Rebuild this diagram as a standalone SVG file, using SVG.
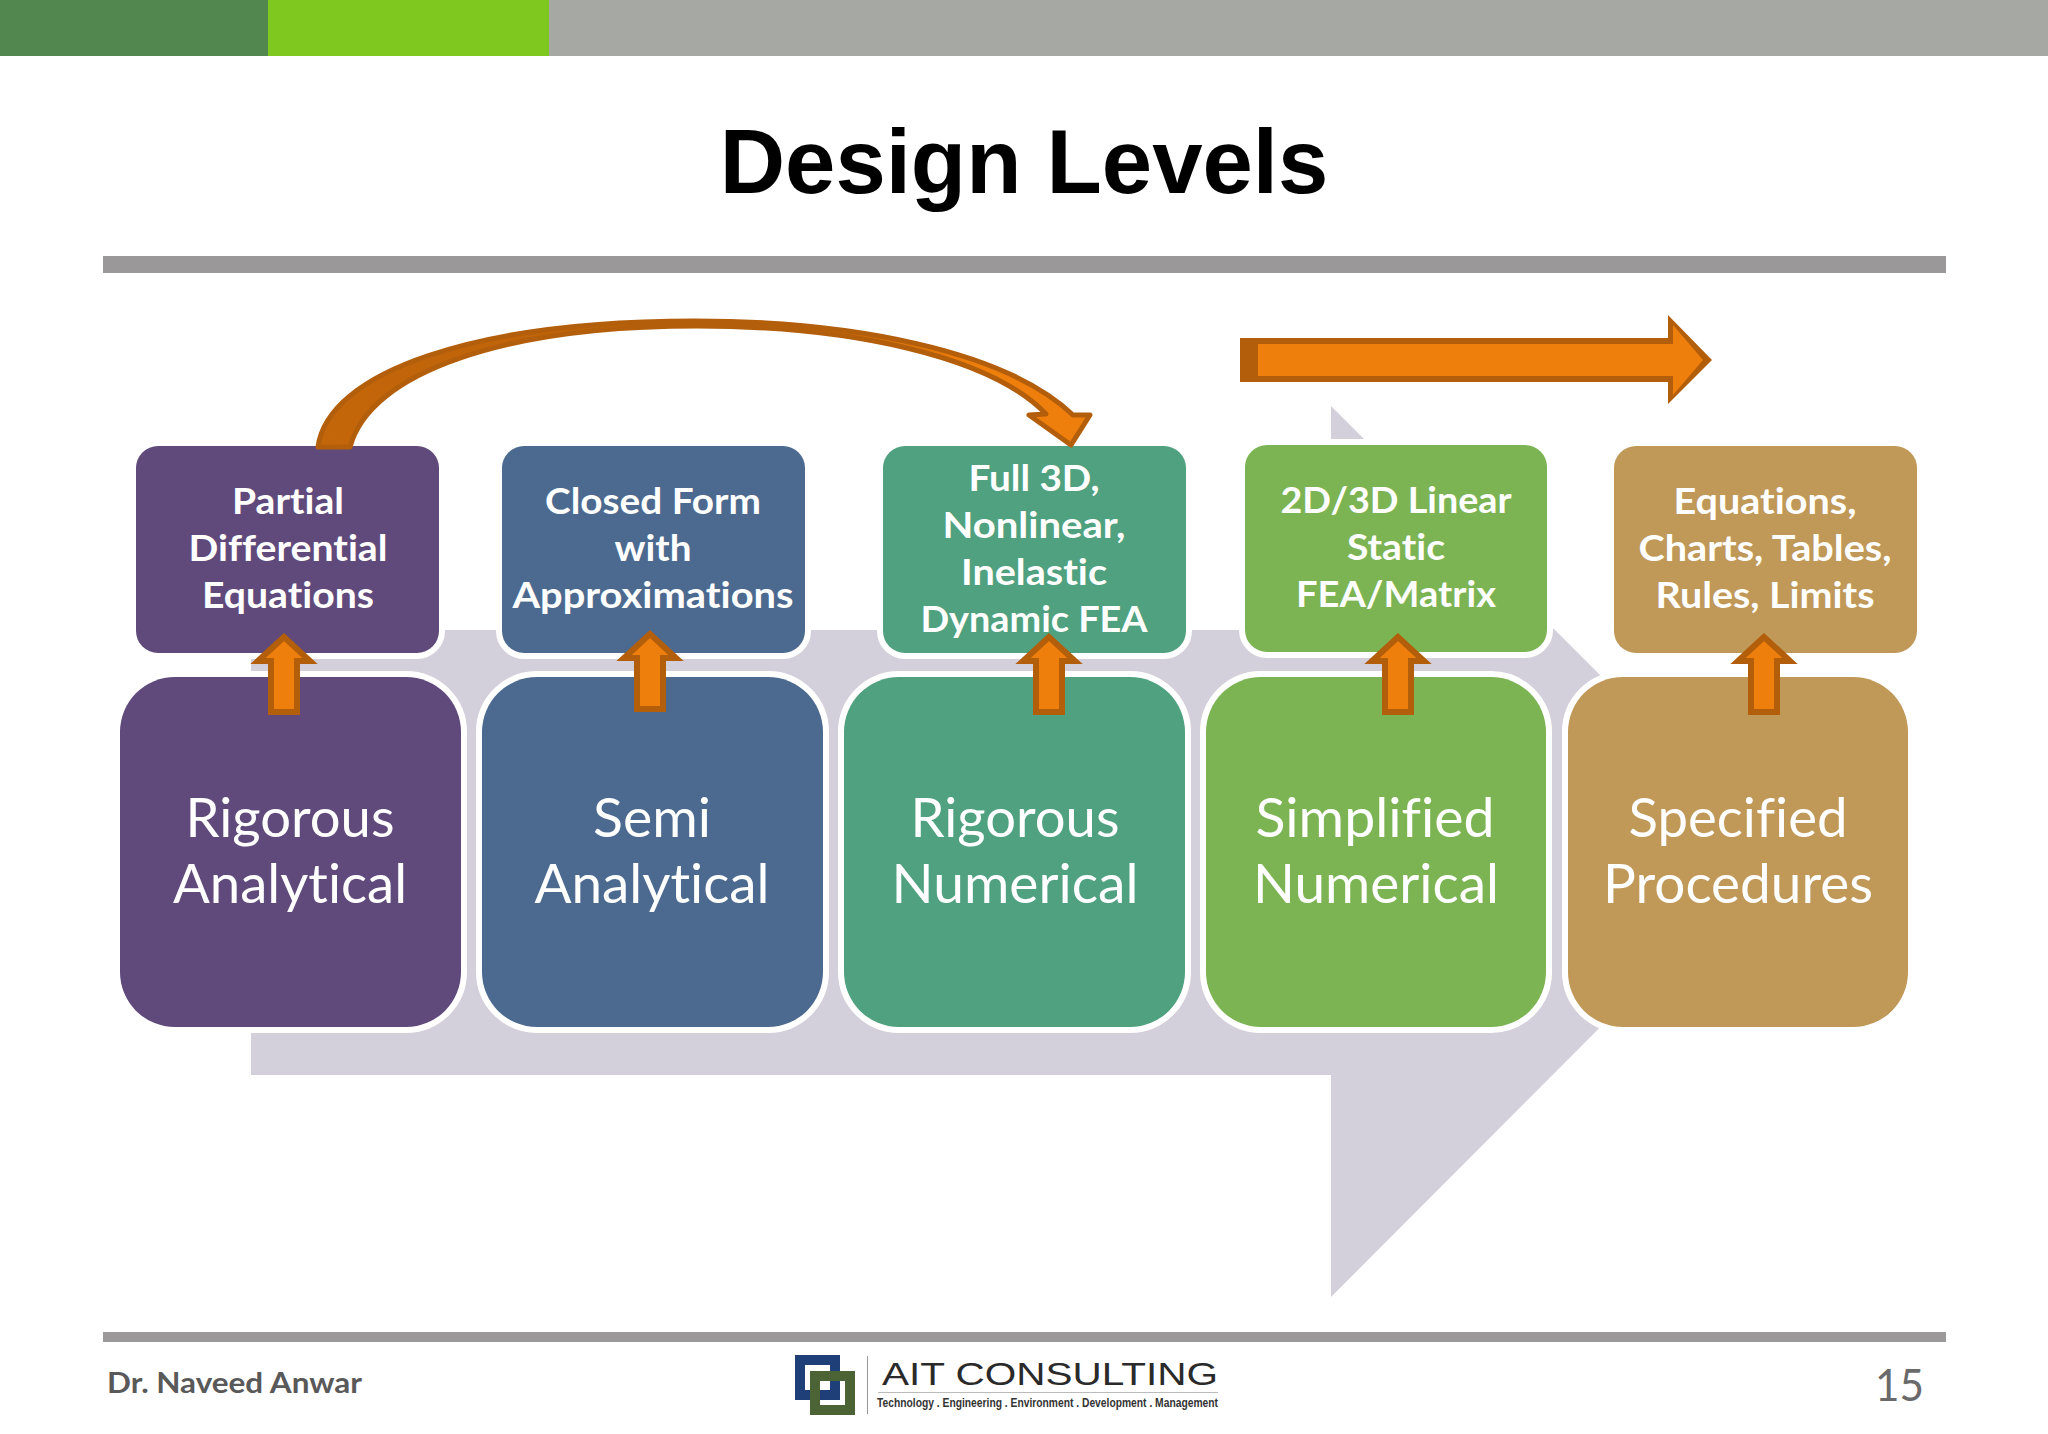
<svg xmlns="http://www.w3.org/2000/svg" width="2048" height="1434" viewBox="0 0 2048 1434">
<style>
text{font-variant-ligatures:none}
.sm{font-family:Lato,"Liberation Sans",sans-serif;font-weight:700;font-size:37px;fill:#fff;text-anchor:middle}
.bg{font-family:Lato,"Liberation Sans",sans-serif;font-weight:400;font-size:54px;fill:#fff;text-anchor:middle}
.box{stroke:#fff;stroke-width:12;paint-order:stroke}
.or{fill:#ef7f0c;stroke:#b35e0a;stroke-width:6}
</style>
<defs>
<path id="up" d="M0,5 L-26,29 H-13 V80 H13 V29 H26 Z"/>
<linearGradient id="cg" gradientUnits="userSpaceOnUse" x1="315" y1="0" x2="1070" y2="0">
<stop offset="0" stop-color="#c4660a"/><stop offset="0.62" stop-color="#b9620a"/><stop offset="0.88" stop-color="#ef7f0c"/>
</linearGradient>
</defs>
<rect width="2048" height="1434" fill="#fff"/>
<g id="topbar">
<rect x="0" y="0" width="2048" height="56" fill="#a5a8a3"/>
<rect x="0" y="0" width="268" height="56" fill="#52884f"/>
<rect x="268" y="0" width="281" height="56" fill="#7ec820"/>
</g>
<text x="1024" y="193" text-anchor="middle" font-family="'Liberation Sans',Arial,sans-serif" font-weight="700" font-size="90.5" fill="#000">Design Levels</text>
<rect x="103" y="256" width="1843" height="17" fill="#9a9899"/>
<polygon id="bigarrow" points="251,630 1331,630 1331,406 1776,851 1331,1297 1331,1075 251,1075" fill="#d3cfdb"/>

<g id="n1"><rect class="box" x="136" y="446" width="303" height="207" rx="22" fill="#604a7b"/>
<text class="sm"><tspan x="288" y="514" textLength="112" lengthAdjust="spacingAndGlyphs">Partial</tspan><tspan x="288" y="561" textLength="199" lengthAdjust="spacingAndGlyphs">Differential</tspan><tspan x="288" y="608" textLength="172" lengthAdjust="spacingAndGlyphs">Equations</tspan></text></g>
<g id="n2"><rect class="box" x="502" y="446" width="303" height="207" rx="22" fill="#4c6a8f"/>
<text class="sm"><tspan x="653" y="514" textLength="216" lengthAdjust="spacingAndGlyphs">Closed Form</tspan><tspan x="653" y="561" textLength="77" lengthAdjust="spacingAndGlyphs">with</tspan><tspan x="653" y="608" textLength="281" lengthAdjust="spacingAndGlyphs">Approximations</tspan></text></g>
<g id="n3"><rect class="box" x="883" y="446" width="303" height="207" rx="22" fill="#4fa17f"/>
<text class="sm"><tspan x="1034" y="491" textLength="131" lengthAdjust="spacingAndGlyphs">Full 3D,</tspan><tspan x="1034" y="538" textLength="183" lengthAdjust="spacingAndGlyphs">Nonlinear,</tspan><tspan x="1034" y="585" textLength="146" lengthAdjust="spacingAndGlyphs">Inelastic</tspan><tspan x="1034" y="632" textLength="227" lengthAdjust="spacingAndGlyphs">Dynamic FEA</tspan></text></g>
<g id="n4"><rect class="box" x="1245" y="445" width="302" height="207" rx="22" fill="#7cb454"/>
<text class="sm"><tspan x="1396" y="513" textLength="231" lengthAdjust="spacingAndGlyphs">2D/3D Linear</tspan><tspan x="1396" y="560" textLength="98" lengthAdjust="spacingAndGlyphs">Static</tspan><tspan x="1396" y="607" textLength="200" lengthAdjust="spacingAndGlyphs">FEA/Matrix</tspan></text></g>
<g id="n5"><rect class="box" x="1614" y="446" width="303" height="207" rx="22" fill="#c09858"/>
<text class="sm"><tspan x="1765" y="514" textLength="183" lengthAdjust="spacingAndGlyphs">Equations,</tspan><tspan x="1765" y="561" textLength="253" lengthAdjust="spacingAndGlyphs">Charts, Tables,</tspan><tspan x="1765" y="608" textLength="219" lengthAdjust="spacingAndGlyphs">Rules, Limits</tspan></text></g>

<g id="n6"><rect class="box" x="120" y="677" width="341" height="350" rx="55" fill="#604a7b"/>
<text class="bg"><tspan x="290" y="837" textLength="209" lengthAdjust="spacingAndGlyphs">Rigorous</tspan><tspan x="290" y="903" textLength="234" lengthAdjust="spacingAndGlyphs">Analytical</tspan></text></g>
<g id="n7"><rect class="box" x="482" y="677" width="341" height="350" rx="55" fill="#4c6a8f"/>
<text class="bg"><tspan x="652" y="837" textLength="118" lengthAdjust="spacingAndGlyphs">Semi</tspan><tspan x="652" y="903" textLength="235" lengthAdjust="spacingAndGlyphs">Analytical</tspan></text></g>
<g id="n8"><rect class="box" x="844" y="677" width="341" height="350" rx="55" fill="#4fa17f"/>
<text class="bg"><tspan x="1015" y="837" textLength="209" lengthAdjust="spacingAndGlyphs">Rigorous</tspan><tspan x="1015" y="903" textLength="247" lengthAdjust="spacingAndGlyphs">Numerical</tspan></text></g>
<g id="n9"><rect class="box" x="1206" y="677" width="340" height="350" rx="55" fill="#7cb454"/>
<text class="bg"><tspan x="1375" y="837" textLength="239" lengthAdjust="spacingAndGlyphs">Simplified</tspan><tspan x="1376" y="903" textLength="246" lengthAdjust="spacingAndGlyphs">Numerical</tspan></text></g>
<g id="n10"><rect class="box" x="1568" y="677" width="340" height="350" rx="55" fill="#c09858"/>
<text class="bg"><tspan x="1738" y="837" textLength="219" lengthAdjust="spacingAndGlyphs">Specified</tspan><tspan x="1738" y="903" textLength="270" lengthAdjust="spacingAndGlyphs">Procedures</tspan></text></g>

<g id="connectors">
<use href="#up" class="or" x="284" y="632"/>
<use href="#up" class="or" x="650" y="629"/>
<use href="#up" class="or" x="1049" y="632"/>
<use href="#up" class="or" x="1398" y="632"/>
<use href="#up" class="or" x="1764" y="632"/>
<path d="M318,447 C328,372 475,321 695,321 C850,321 1005,350 1073,415 L1090,415 L1071,445 L1029,415 L1046,414 C990,356 850,326 697,326 C505,326 370,372 350,447 Z" fill="url(#cg)" stroke="#b35e0a" stroke-width="5" stroke-linejoin="round"/>
<polygon points="1240,338 1668,338 1668,315 1712,360 1668,404 1668,382 1240,382" fill="#b35e0a"/>
<polygon points="1258,344 1673,344 1673,325 1703,360 1673,395 1673,376 1258,376" fill="#ef7f0c"/>
</g>

<rect x="103" y="1332" width="1843" height="10" fill="#9a9899"/>
<text x="107" y="1393" font-family="Lato,'Liberation Sans',sans-serif" font-weight="700" font-size="29" fill="#595959" textLength="255" lengthAdjust="spacingAndGlyphs">Dr. Naveed Anwar</text>
<text x="1875" y="1401" font-family="Lato,'Liberation Sans',sans-serif" font-size="44" fill="#6a6a6a" textLength="49" lengthAdjust="spacingAndGlyphs">15</text>
<g id="logo">
<rect x="800" y="1360" width="35" height="35" fill="none" stroke="#1f3f78" stroke-width="10"/>
<rect x="815" y="1376" width="35" height="34" fill="none" stroke="#4c6336" stroke-width="10"/>
<rect x="867" y="1356" width="1" height="58" fill="#999"/>
<text x="882" y="1385" font-family="'Liberation Sans',sans-serif" font-size="32" fill="#2a2a2a" textLength="336" lengthAdjust="spacingAndGlyphs">AIT CONSULTING</text>
<rect x="878" y="1392" width="340" height="1" fill="#bbb"/>
<text x="877" y="1407" font-family="'Liberation Sans',sans-serif" font-weight="700" font-size="13" fill="#333" textLength="341" lengthAdjust="spacingAndGlyphs">Technology . Engineering . Environment . Development . Management</text>
</g>
</svg>
